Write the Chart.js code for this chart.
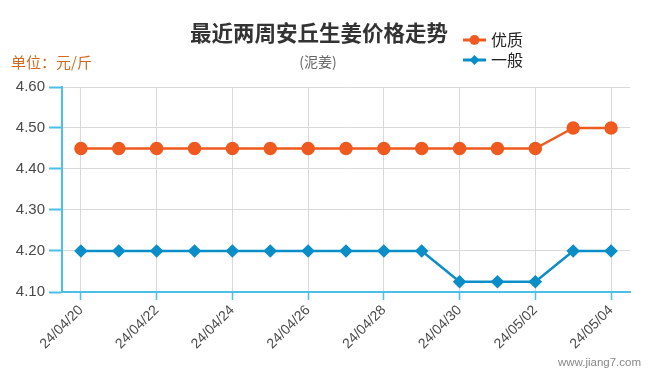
<!DOCTYPE html>
<html><head><meta charset="utf-8">
<script src="https://cdn.jsdelivr.net/npm/chart.js@4/dist/chart.umd.min.js"></script>
<style>html,body{margin:0;padding:0;background:#fff}#wrap{width:650px;height:380px;position:relative}</style>
</head><body><div id="wrap"><canvas id="c" width="650" height="380"></canvas></div>
<script>
const categories = ["24/04/20","24/04/21","24/04/22","24/04/23","24/04/24","24/04/25","24/04/26","24/04/27","24/04/28","24/04/29","24/04/30","24/05/01","24/05/02","24/05/03","24/05/04"];
const premium = [4.45,4.45,4.45,4.45,4.45,4.45,4.45,4.45,4.45,4.45,4.45,4.45,4.45,4.50,4.50];
const ordinary = [4.20,4.20,4.20,4.20,4.20,4.20,4.20,4.20,4.20,4.20,4.125,4.125,4.125,4.20,4.20];
const seriesNames = ["优质","一般"];
const yTicks = [4.10,4.20,4.30,4.40,4.50,4.60];
const titleText = "最近两周安丘生姜价格走势";
const subtitleText = "(泥姜)";
const unitText = "单位：元/斤";
const watermark = "www.jiang7.com";

const ORANGE = "#ee5a1f", BLUE = "#0b8dc7", AXIS = "#4cbfe6";
const FONT = "'Liberation Sans', Arial, sans-serif";

const decor = {
  id: 'decor',
  afterDraw(chart) {
    const ctx = chart.ctx;
    ctx.save();
    ctx.textBaseline = 'middle';
    ctx.fillStyle = '#333';
    ctx.font = "bold 21.5px 'Noto Sans CJK SC', sans-serif";
    ctx.textAlign = 'center';
    ctx.fillText(titleText, 319, 33);
    ctx.fillStyle = '#666';
    ctx.font = "14px 'Noto Sans CJK SC', sans-serif";
    ctx.fillText(subtitleText, 318, 62);
    ctx.textAlign = 'left';
    ctx.fillStyle = '#d2691e';
    ctx.font = "15px 'Noto Sans CJK SC', sans-serif";
    ctx.fillText(unitText, 11, 62);
    // legend
    const items = [{c: ORANGE, s: 'circle', y: 40}, {c: BLUE, s: 'diamond', y: 60}];
    items.forEach((it, i) => {
      ctx.strokeStyle = it.c; ctx.fillStyle = it.c; ctx.lineWidth = 3;
      ctx.beginPath(); ctx.moveTo(463, it.y); ctx.lineTo(486, it.y); ctx.stroke();
      ctx.beginPath();
      if (it.s === 'circle') { ctx.arc(474.5, it.y, 5, 0, Math.PI*2); }
      else { ctx.moveTo(474.5, it.y-5); ctx.lineTo(479.5, it.y); ctx.lineTo(474.5, it.y+5); ctx.lineTo(469.5, it.y); ctx.closePath(); }
      ctx.fill();
      ctx.fillStyle = '#222';
      ctx.font = "16px 'Noto Sans CJK SC', sans-serif";
      ctx.fillText(seriesNames[i], 491, it.y);
    });
    ctx.fillStyle = '#888';
    ctx.font = "11.5px " + FONT;
    ctx.textAlign = 'right';
    ctx.fillText(watermark, 641, 363);
    ctx.restore();
  }
};

new Chart(document.getElementById('c'), {
  type: 'line',
  data: {
    labels: categories,
    datasets: [
      {label: seriesNames[0], data: premium, borderColor: ORANGE, backgroundColor: ORANGE, borderWidth: 2.5, pointStyle: 'circle', pointRadius: 5.5, pointHoverRadius: 5.5, tension: 0},
      {label: seriesNames[1], data: ordinary, borderColor: BLUE, backgroundColor: BLUE, borderWidth: 2.5, pointStyle: 'rectRot', pointRadius: 5, pointHoverRadius: 5, tension: 0}
    ]
  },
  options: {
    responsive: false,
    animation: false,
    layout: {padding: {top: 87, right: 20, left: 0, bottom: 0}},
    plugins: {legend: {display: false}, tooltip: {enabled: false}},
    scales: {
      x: {
        offset: true,
        afterFit: s => { s.height = 88; },
        grid: {offset: false, color: '#d9d9d9', lineWidth: 1, tickColor: AXIS, tickWidth: 1.5, tickLength: 8, drawTicks: true},
        border: {color: AXIS, width: 2},
        ticks: {autoSkip: false, maxRotation: 45, minRotation: 45, color: '#4a4a4a', font: {family: FONT, size: 14}, padding: 2,
          callback: function(v, i) { return i % 2 === 0 ? this.getLabelForValue(v) : null; }}
      },
      y: {
        min: yTicks[0], max: yTicks[yTicks.length-1],
        afterFit: s => { s.width = 62; },
        afterBuildTicks: s => { s.ticks = yTicks.map(v => ({value: v})); },
        grid: {color: '#d9d9d9', lineWidth: 1, tickColor: AXIS, tickWidth: 2, tickLength: 13},
        border: {color: AXIS, width: 2},
        ticks: {color: '#4a4a4a', font: {family: FONT, size: 15}, padding: 4, callback: v => Number(v).toFixed(2)}
      }
    }
  },
  plugins: [decor]
});
</script></body></html>
